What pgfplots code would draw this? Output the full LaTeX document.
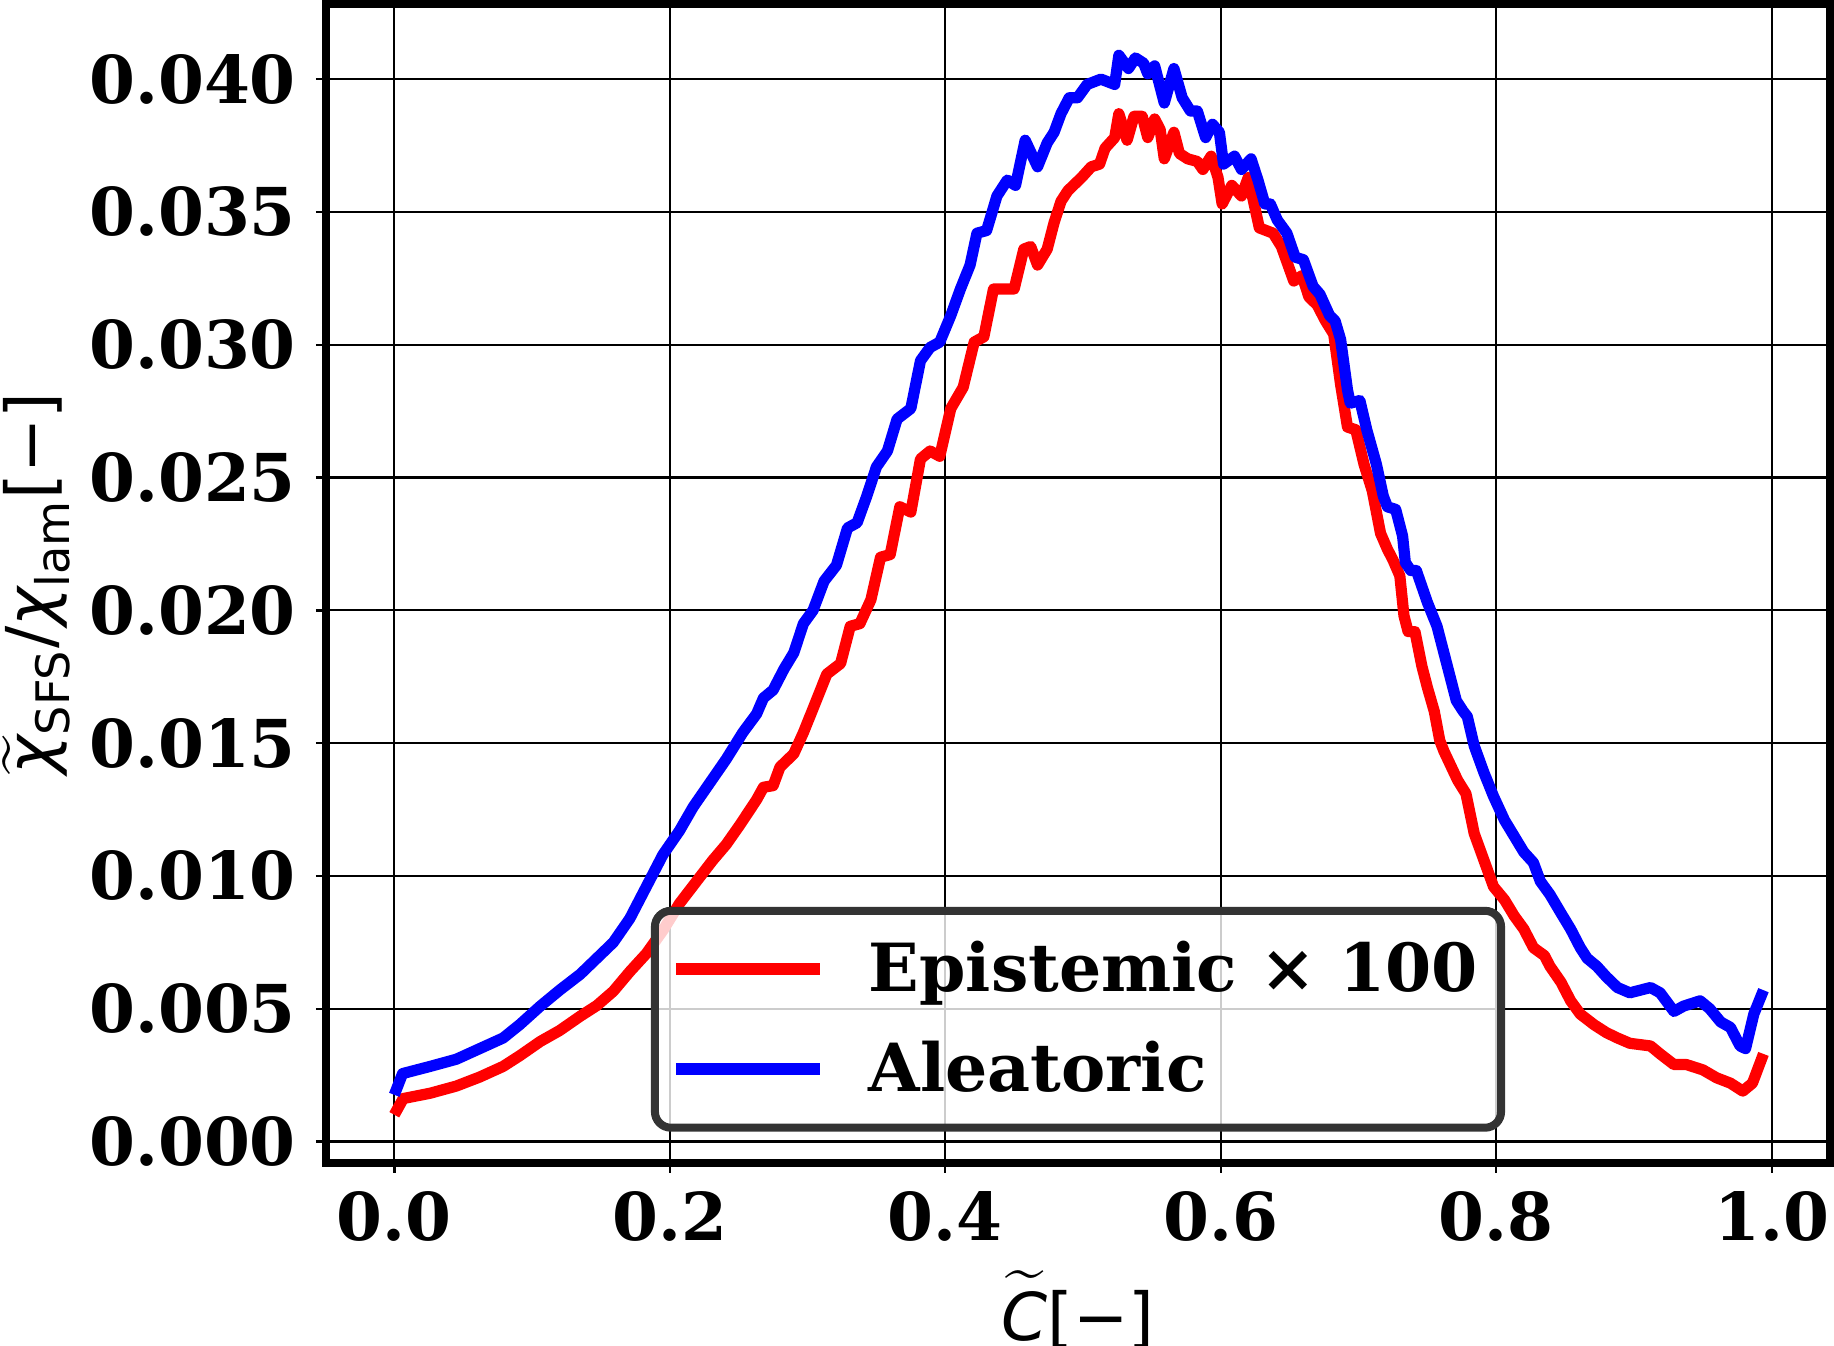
\documentclass[border=0pt]{standalone}
\usepackage{pgfplots}
\pgfplotsset{compat=1.18}
\usepackage{amsmath}
\usepackage{fontspec}
\setmainfont{DejaVu Serif}
\newfontfamily\djs{DejaVu Sans}
\definecolor{pured}{rgb}{1,0,0}
\definecolor{publue}{rgb}{0,0,1}
\begin{document}
\begin{tikzpicture}
\begin{axis}[
  at={(0,0)}, anchor=south west,
  scale only axis, width=376pt, height=289.75pt,
  xmin=-0.0496, xmax=1.0423,
  ymin=-0.000806, ymax=0.04283,
  xtick={0,0.2,0.4,0.6,0.8,1.0},
  ytick={0,0.005,0.010,0.015,0.020,0.025,0.030,0.035,0.040},
  scaled y ticks=false, scaled x ticks=false,
  /pgf/number format/assume math mode=true,
  xticklabel style={/pgf/number format/.cd, fixed, fixed zerofill, precision=1, /tikz/.cd, yshift=-1.2pt},
  yticklabel style={/pgf/number format/.cd, fixed, fixed zerofill, precision=3, /tikz/.cd, xshift=-1.5pt},
  ticklabel style={font=\bfseries\fontsize{16.5}{19.8}\selectfont},
  tick pos=left, tick align=outside, major tick length=2.5pt,
  tick style={black, line width=0.6pt},
  grid=major, major grid style={black, line width=0.55pt},
  axis line style={black, line width=2pt},
  xlabel={$\widetilde{\text{\djs\itshape C}}\text{\djs[−]}$},
  ylabel={$\widetilde{\raisebox{0pt}[7.6pt]{\djs\itshape χ}}_{\text{\djs SFS}}\text{\djs/}\text{\djs\itshape χ}_{\text{\djs lam}}\text{\djs[−]}$},
  label style={font=\fontsize{16.5}{19.8}\selectfont},
  xlabel style={at={(axis description cs:0.5,-0.1268)}, anchor=center},
  ylabel style={at={(axis description cs:-0.1925,0.5)}, anchor=center},
  legend image code/.code={\draw[#1, line width=3pt] (0pt,0pt) -- (36pt,0pt);},
  legend cell align=left,
  legend style={
    at={(axis description cs:0.5,0.027)}, anchor=south,
    draw=black!80, line width=2pt, rounded corners=4pt,
    fill=white, fill opacity=0.8, text opacity=1,
    font=\bfseries\fontsize{16.6}{19.9}\selectfont,
    inner xsep=3.8pt, inner ysep=5.5pt, row sep=7pt,
    /tikz/every odd column/.append style={column sep=8.7pt},
  },
]
\addplot[pured, line width=2.8pt, line join=round] coordinates {
(0.000,0.00101)(0.0065,0.00162)(0.026,0.00182)(0.045,0.00209)(0.062,0.00243)
(0.079,0.00283)(0.091,0.00323)(0.106,0.00377)(0.120,0.00418)(0.135,0.00472)
(0.147,0.00512)(0.159,0.00566)(0.171,0.00640)(0.183,0.00708)(0.195,0.00795)
(0.207,0.00896)(0.219,0.00977)(0.231,0.01058)(0.241,0.01119)(0.251,0.01193)
(0.263,0.01287)(0.268,0.01334)(0.275,0.01340)(0.280,0.01410)(0.290,0.01460)
(0.297,0.01540)(0.304,0.01630)(0.314,0.0176)(0.324,0.0180)(0.331,0.0194)
(0.338,0.0195)(0.346,0.0204)(0.353,0.0220)(0.360,0.0221)(0.367,0.0239)
(0.375,0.0237)(0.382,0.0257)(0.389,0.0260)(0.396,0.0258)(0.404,0.0276)
(0.413,0.0284)(0.421,0.0301)(0.428,0.0303)(0.435,0.0321)(0.442,0.0321)
(0.450,0.0321)(0.457,0.0336)(0.462,0.0337)(0.467,0.0330)(0.474,0.0336)
(0.479,0.0346)(0.484,0.0354)(0.489,0.0358)(0.499,0.0363)(0.506,0.0367)
(0.512,0.0368)(0.516,0.0374)(0.523,0.0378)(0.526,0.0387)(0.532,0.0377)
(0.537,0.0386)(0.543,0.0386)(0.547,0.0378)(0.552,0.0385)(0.556,0.0381)
(0.559,0.0370)(0.566,0.0380)(0.570,0.0372)(0.576,0.0370)(0.583,0.0369)
(0.587,0.0366)(0.593,0.0371)(0.598,0.0363)(0.601,0.0353)(0.608,0.0360)
(0.615,0.0356)(0.620,0.0363)(0.628,0.0344)(0.638,0.0342)(0.644,0.0337)
(0.653,0.0324)(0.659,0.0326)(0.664,0.0318)(0.670,0.0315)(0.676,0.0309)
(0.682,0.0304)(0.687,0.0285)(0.692,0.0269)(0.698,0.0268)(0.704,0.0255)
(0.710,0.0245)(0.716,0.0229)(0.721,0.0223)(0.725,0.0219)(0.730,0.0213)
(0.733,0.0198)(0.736,0.0192)(0.741,0.0192)(0.746,0.0179)(0.750,0.0171)
(0.755,0.0162)(0.759,0.0151)(0.762,0.0147)(0.772,0.0136)(0.778,0.0131)
(0.784,0.0116)(0.791,0.0106)(0.798,0.0096)(0.806,0.0091)(0.813,0.0085)
(0.820,0.0080)(0.827,0.0073)(0.835,0.0070)(0.839,0.0066)(0.847,0.0060)
(0.854,0.0053)(0.861,0.0048)(0.871,0.0044)(0.880,0.0041)(0.888,0.0039)
(0.897,0.0037)(0.912,0.0036)(0.919,0.0033)(0.929,0.0029)(0.938,0.0029)
(0.950,0.0027)(0.960,0.0024)(0.970,0.0022)(0.979,0.0019)(0.986,0.0022)
(0.994,0.0033)
};
\addlegendentry{Epistemic × 100}
\addplot[publue, line width=2.8pt, line join=round] coordinates {
(0.000,0.00176)(0.006,0.00256)(0.026,0.00283)(0.045,0.00310)(0.062,0.00350)
(0.079,0.00390)(0.091,0.00440)(0.106,0.00510)(0.120,0.00570)(0.135,0.00630)
(0.147,0.00690)(0.159,0.00750)(0.171,0.00840)(0.183,0.00960)(0.195,0.01080)
(0.207,0.01170)(0.217,0.01260)(0.229,0.01350)(0.241,0.01440)(0.253,0.01540)
(0.263,0.01610)(0.268,0.01670)(0.275,0.01700)(0.283,0.01780)(0.290,0.01840)
(0.297,0.01950)(0.304,0.02000)(0.312,0.02110)(0.321,0.02170)(0.329,0.02310)
(0.336,0.02330)(0.343,0.02430)(0.350,0.02540)(0.358,0.02600)(0.365,0.02720)
(0.375,0.02760)(0.382,0.02940)(0.389,0.02990)(0.396,0.03010)(0.404,0.03110)
(0.411,0.03210)(0.418,0.03300)(0.423,0.03420)(0.430,0.03430)(0.4375,0.03560)
(0.445,0.03620)(0.451,0.03600)(0.458,0.03770)(0.467,0.03670)(0.474,0.03760)
(0.479,0.03800)(0.484,0.03870)(0.490,0.03930)(0.496,0.03930)(0.503,0.03980)
(0.513,0.04000)(0.523,0.03980)(0.526,0.04090)(0.533,0.04040)(0.538,0.04080)
(0.544,0.04060)(0.547,0.04020)(0.552,0.04050)(0.559,0.03910)(0.566,0.04040)
(0.572,0.03930)(0.578,0.03880)(0.583,0.03880)(0.589,0.03780)(0.594,0.03830)
(0.599,0.03800)(0.602,0.03680)(0.610,0.03710)(0.615,0.03660)(0.622,0.03700)
(0.627,0.03620)(0.632,0.03530)(0.636,0.03530)(0.641,0.03470)(0.648,0.03420)
(0.654,0.03330)(0.660,0.03320)(0.667,0.03220)(0.672,0.03190)(0.679,0.03110)
(0.683,0.03090)(0.687,0.03020)(0.692,0.02830)(0.694,0.02780)(0.701,0.02790)
(0.706,0.02680)(0.713,0.02550)(0.718,0.02430)(0.721,0.02390)(0.727,0.02380)
(0.732,0.02280)(0.734,0.02180)(0.738,0.02150)(0.742,0.02150)(0.750,0.02030)
(0.757,0.01940)(0.764,0.01800)(0.771,0.01660)(0.776,0.01620)(0.779,0.01600)
(0.784,0.01490)(0.791,0.01390)(0.798,0.01300)(0.806,0.01210)(0.813,0.01150)
(0.820,0.01090)(0.827,0.01050)(0.832,0.00980)(0.839,0.00930)(0.847,0.00860)
(0.854,0.00800)(0.861,0.00730)(0.866,0.00690)(0.873,0.00660)(0.880,0.00620)
(0.888,0.00580)(0.897,0.00560)(0.912,0.00580)(0.919,0.00560)(0.929,0.00490)
(0.936,0.00510)(0.948,0.00530)(0.955,0.00500)(0.963,0.00450)(0.970,0.00430)
(0.977,0.00360)(0.981,0.00350)(0.987,0.00480)(0.994,0.00570)
};
\addlegendentry{Aleatoric}
\end{axis}
\pgfresetboundingbox
\useasboundingbox (-81.5pt,-45.75pt) rectangle (377pt,290.75pt);
\end{tikzpicture}
\end{document}
